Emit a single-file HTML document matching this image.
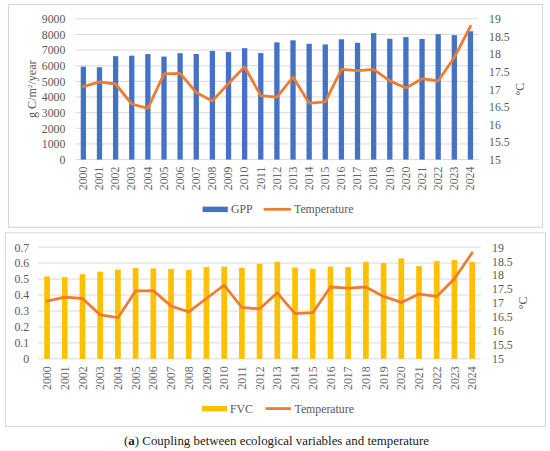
<!DOCTYPE html>
<html><head><meta charset="utf-8"><style>
html,body{margin:0;padding:0;background:#fff;width:550px;height:451px;overflow:hidden}
svg{display:block}
svg text{font-family:"Liberation Serif",serif;font-size:11.8px;fill:#595959}
svg text.xl{fill:#656565}
.cap{position:absolute;left:1.5px;top:434px;width:550px;text-align:center;font-family:"Liberation Serif",serif;font-size:12.9px;color:#1a1a1a;white-space:nowrap}
</style></head><body>
<svg width="550" height="451" viewBox="0 0 550 451">
<rect x="8.4" y="4.5" width="534.2" height="222.8" fill="#fff" stroke="#d4d4d4" stroke-width="1"/>
<line x1="75.3" x2="478.5" y1="159.60" y2="159.60" stroke="#d9d9d9" stroke-width="1"/>
<line x1="75.3" x2="478.5" y1="143.95" y2="143.95" stroke="#d9d9d9" stroke-width="1"/>
<line x1="75.3" x2="478.5" y1="128.30" y2="128.30" stroke="#d9d9d9" stroke-width="1"/>
<line x1="75.3" x2="478.5" y1="112.65" y2="112.65" stroke="#d9d9d9" stroke-width="1"/>
<line x1="75.3" x2="478.5" y1="97.00" y2="97.00" stroke="#d9d9d9" stroke-width="1"/>
<line x1="75.3" x2="478.5" y1="81.35" y2="81.35" stroke="#d9d9d9" stroke-width="1"/>
<line x1="75.3" x2="478.5" y1="65.70" y2="65.70" stroke="#d9d9d9" stroke-width="1"/>
<line x1="75.3" x2="478.5" y1="50.05" y2="50.05" stroke="#d9d9d9" stroke-width="1"/>
<line x1="75.3" x2="478.5" y1="34.40" y2="34.40" stroke="#d9d9d9" stroke-width="1"/>
<line x1="75.3" x2="478.5" y1="18.75" y2="18.75" stroke="#d9d9d9" stroke-width="1"/>
<rect x="80.71" y="66.60" width="5.3" height="93.00" fill="#4472C4"/>
<rect x="96.84" y="67.20" width="5.3" height="92.40" fill="#4472C4"/>
<rect x="112.97" y="56.20" width="5.3" height="103.40" fill="#4472C4"/>
<rect x="129.10" y="55.70" width="5.3" height="103.90" fill="#4472C4"/>
<rect x="145.23" y="54.10" width="5.3" height="105.50" fill="#4472C4"/>
<rect x="161.35" y="56.60" width="5.3" height="103.00" fill="#4472C4"/>
<rect x="177.48" y="53.20" width="5.3" height="106.40" fill="#4472C4"/>
<rect x="193.61" y="54.00" width="5.3" height="105.60" fill="#4472C4"/>
<rect x="209.74" y="50.90" width="5.3" height="108.70" fill="#4472C4"/>
<rect x="225.87" y="52.10" width="5.3" height="107.50" fill="#4472C4"/>
<rect x="241.99" y="48.20" width="5.3" height="111.40" fill="#4472C4"/>
<rect x="258.12" y="53.10" width="5.3" height="106.50" fill="#4472C4"/>
<rect x="274.25" y="42.40" width="5.3" height="117.20" fill="#4472C4"/>
<rect x="290.38" y="40.30" width="5.3" height="119.30" fill="#4472C4"/>
<rect x="306.51" y="43.80" width="5.3" height="115.80" fill="#4472C4"/>
<rect x="322.63" y="44.40" width="5.3" height="115.20" fill="#4472C4"/>
<rect x="338.76" y="39.30" width="5.3" height="120.30" fill="#4472C4"/>
<rect x="354.89" y="42.80" width="5.3" height="116.80" fill="#4472C4"/>
<rect x="371.02" y="33.20" width="5.3" height="126.40" fill="#4472C4"/>
<rect x="387.15" y="38.80" width="5.3" height="120.80" fill="#4472C4"/>
<rect x="403.27" y="37.10" width="5.3" height="122.50" fill="#4472C4"/>
<rect x="419.40" y="39.00" width="5.3" height="120.60" fill="#4472C4"/>
<rect x="435.53" y="34.10" width="5.3" height="125.50" fill="#4472C4"/>
<rect x="451.66" y="35.20" width="5.3" height="124.40" fill="#4472C4"/>
<rect x="467.79" y="31.20" width="5.3" height="128.40" fill="#4472C4"/>
<polyline points="83.36,86.60 99.49,81.90 115.62,84.00 131.75,104.00 147.88,108.30 164.00,73.90 180.13,73.40 196.26,92.50 212.39,100.90 228.52,83.50 244.64,66.80 260.77,95.60 276.90,97.10 293.03,77.10 309.16,103.20 325.28,101.90 341.41,69.30 357.54,70.60 373.67,69.40 389.80,80.90 405.92,88.00 422.05,78.70 438.18,81.00 454.31,57.50 470.44,26.30" fill="none" stroke="#ED7D31" stroke-width="2.8" stroke-linejoin="round" stroke-linecap="round"/>
<text x="65.4" y="164.00" text-anchor="end">0</text>
<text x="65.4" y="148.35" text-anchor="end">1000</text>
<text x="65.4" y="132.70" text-anchor="end">2000</text>
<text x="65.4" y="117.05" text-anchor="end">3000</text>
<text x="65.4" y="101.40" text-anchor="end">4000</text>
<text x="65.4" y="85.75" text-anchor="end">5000</text>
<text x="65.4" y="70.10" text-anchor="end">6000</text>
<text x="65.4" y="54.45" text-anchor="end">7000</text>
<text x="65.4" y="38.80" text-anchor="end">8000</text>
<text x="65.4" y="23.15" text-anchor="end">9000</text>
<text x="489.0" y="164.00">15</text>
<text x="489.0" y="146.39">15.5</text>
<text x="489.0" y="128.79">16</text>
<text x="489.0" y="111.18">16.5</text>
<text x="489.0" y="93.58">17</text>
<text x="489.0" y="75.97">17.5</text>
<text x="489.0" y="58.36">18</text>
<text x="489.0" y="40.76">18.5</text>
<text x="489.0" y="23.15">19</text>
<text transform="translate(87.10,166.6) rotate(-90)" text-anchor="end" class="xl">2000</text>
<text transform="translate(103.23,166.6) rotate(-90)" text-anchor="end" class="xl">2001</text>
<text transform="translate(119.36,166.6) rotate(-90)" text-anchor="end" class="xl">2002</text>
<text transform="translate(135.48,166.6) rotate(-90)" text-anchor="end" class="xl">2003</text>
<text transform="translate(151.61,166.6) rotate(-90)" text-anchor="end" class="xl">2004</text>
<text transform="translate(167.74,166.6) rotate(-90)" text-anchor="end" class="xl">2005</text>
<text transform="translate(183.87,166.6) rotate(-90)" text-anchor="end" class="xl">2006</text>
<text transform="translate(200.00,166.6) rotate(-90)" text-anchor="end" class="xl">2007</text>
<text transform="translate(216.12,166.6) rotate(-90)" text-anchor="end" class="xl">2008</text>
<text transform="translate(232.25,166.6) rotate(-90)" text-anchor="end" class="xl">2009</text>
<text transform="translate(248.38,166.6) rotate(-90)" text-anchor="end" class="xl">2010</text>
<text transform="translate(264.51,166.6) rotate(-90)" text-anchor="end" class="xl">2011</text>
<text transform="translate(280.64,166.6) rotate(-90)" text-anchor="end" class="xl">2012</text>
<text transform="translate(296.76,166.6) rotate(-90)" text-anchor="end" class="xl">2013</text>
<text transform="translate(312.89,166.6) rotate(-90)" text-anchor="end" class="xl">2014</text>
<text transform="translate(329.02,166.6) rotate(-90)" text-anchor="end" class="xl">2015</text>
<text transform="translate(345.15,166.6) rotate(-90)" text-anchor="end" class="xl">2016</text>
<text transform="translate(361.28,166.6) rotate(-90)" text-anchor="end" class="xl">2017</text>
<text transform="translate(377.40,166.6) rotate(-90)" text-anchor="end" class="xl">2018</text>
<text transform="translate(393.53,166.6) rotate(-90)" text-anchor="end" class="xl">2019</text>
<text transform="translate(409.66,166.6) rotate(-90)" text-anchor="end" class="xl">2020</text>
<text transform="translate(425.79,166.6) rotate(-90)" text-anchor="end" class="xl">2021</text>
<text transform="translate(441.92,166.6) rotate(-90)" text-anchor="end" class="xl">2022</text>
<text transform="translate(458.04,166.6) rotate(-90)" text-anchor="end" class="xl">2023</text>
<text transform="translate(474.17,166.6) rotate(-90)" text-anchor="end" class="xl">2024</text>
<text transform="translate(35.6,89.17) rotate(-90)" text-anchor="middle" style="font-size:12.1px">g C/m<tspan style="font-size:7px" dy="-3.6">2</tspan><tspan dy="3.6">/year</tspan></text>
<text transform="translate(523.5,89.17) rotate(-90)" text-anchor="middle">°C</text>
<rect x="202.6" y="206.6" width="25.2" height="5.5" fill="#4472C4"/>
<text x="230.9" y="213.30">GPP</text>
<line x1="263.6" x2="290.8" y1="209.3" y2="209.3" stroke="#ED7D31" stroke-width="2.8"/>
<text x="294.0" y="213.30">Temperature</text>
<rect x="5.4" y="232.9" width="540.1" height="193.5" fill="#fff" stroke="#d4d4d4" stroke-width="1"/>
<line x1="38.2" x2="481.0" y1="358.85" y2="358.85" stroke="#d9d9d9" stroke-width="1"/>
<line x1="38.2" x2="481.0" y1="342.89" y2="342.89" stroke="#d9d9d9" stroke-width="1"/>
<line x1="38.2" x2="481.0" y1="326.93" y2="326.93" stroke="#d9d9d9" stroke-width="1"/>
<line x1="38.2" x2="481.0" y1="310.97" y2="310.97" stroke="#d9d9d9" stroke-width="1"/>
<line x1="38.2" x2="481.0" y1="295.01" y2="295.01" stroke="#d9d9d9" stroke-width="1"/>
<line x1="38.2" x2="481.0" y1="279.05" y2="279.05" stroke="#d9d9d9" stroke-width="1"/>
<line x1="38.2" x2="481.0" y1="263.09" y2="263.09" stroke="#d9d9d9" stroke-width="1"/>
<line x1="38.2" x2="481.0" y1="247.13" y2="247.13" stroke="#d9d9d9" stroke-width="1"/>
<rect x="44.21" y="276.40" width="5.7" height="82.45" fill="#FFC000"/>
<rect x="61.92" y="277.20" width="5.7" height="81.65" fill="#FFC000"/>
<rect x="79.63" y="274.20" width="5.7" height="84.65" fill="#FFC000"/>
<rect x="97.34" y="271.60" width="5.7" height="87.25" fill="#FFC000"/>
<rect x="115.05" y="269.60" width="5.7" height="89.25" fill="#FFC000"/>
<rect x="132.77" y="268.00" width="5.7" height="90.85" fill="#FFC000"/>
<rect x="150.48" y="268.40" width="5.7" height="90.45" fill="#FFC000"/>
<rect x="168.19" y="269.00" width="5.7" height="89.85" fill="#FFC000"/>
<rect x="185.90" y="269.80" width="5.7" height="89.05" fill="#FFC000"/>
<rect x="203.61" y="267.10" width="5.7" height="91.75" fill="#FFC000"/>
<rect x="221.33" y="266.60" width="5.7" height="92.25" fill="#FFC000"/>
<rect x="239.04" y="267.70" width="5.7" height="91.15" fill="#FFC000"/>
<rect x="256.75" y="263.90" width="5.7" height="94.95" fill="#FFC000"/>
<rect x="274.46" y="261.80" width="5.7" height="97.05" fill="#FFC000"/>
<rect x="292.17" y="267.50" width="5.7" height="91.35" fill="#FFC000"/>
<rect x="309.89" y="268.70" width="5.7" height="90.15" fill="#FFC000"/>
<rect x="327.60" y="266.60" width="5.7" height="92.25" fill="#FFC000"/>
<rect x="345.31" y="267.00" width="5.7" height="91.85" fill="#FFC000"/>
<rect x="363.02" y="261.80" width="5.7" height="97.05" fill="#FFC000"/>
<rect x="380.73" y="263.10" width="5.7" height="95.75" fill="#FFC000"/>
<rect x="398.45" y="258.40" width="5.7" height="100.45" fill="#FFC000"/>
<rect x="416.16" y="266.10" width="5.7" height="92.75" fill="#FFC000"/>
<rect x="433.87" y="261.10" width="5.7" height="97.75" fill="#FFC000"/>
<rect x="451.58" y="259.90" width="5.7" height="98.95" fill="#FFC000"/>
<rect x="469.29" y="261.80" width="5.7" height="97.05" fill="#FFC000"/>
<polyline points="47.06,301.20 64.77,297.10 82.48,298.50 100.19,314.90 117.90,317.70 135.62,290.90 153.33,290.60 171.04,306.00 188.75,311.80 206.46,298.50 224.18,285.20 241.89,307.50 259.60,308.80 277.31,292.90 295.02,313.60 312.74,312.70 330.45,287.00 348.16,288.20 365.87,287.00 383.58,296.40 401.30,302.40 419.01,294.10 436.72,296.40 454.43,278.70 472.14,252.80" fill="none" stroke="#ED7D31" stroke-width="2.8" stroke-linejoin="round" stroke-linecap="round"/>
<text x="29.2" y="363.25" text-anchor="end">0</text>
<text x="29.2" y="347.29" text-anchor="end">0.1</text>
<text x="29.2" y="331.33" text-anchor="end">0.2</text>
<text x="29.2" y="315.37" text-anchor="end">0.3</text>
<text x="29.2" y="299.41" text-anchor="end">0.4</text>
<text x="29.2" y="283.45" text-anchor="end">0.5</text>
<text x="29.2" y="267.49" text-anchor="end">0.6</text>
<text x="29.2" y="251.53" text-anchor="end">0.7</text>
<text x="492.0" y="363.25">15</text>
<text x="492.0" y="349.29">15.5</text>
<text x="492.0" y="335.32">16</text>
<text x="492.0" y="321.36">16.5</text>
<text x="492.0" y="307.39">17</text>
<text x="492.0" y="293.43">17.5</text>
<text x="492.0" y="279.46">18</text>
<text x="492.0" y="265.50">18.5</text>
<text x="492.0" y="251.53">19</text>
<text transform="translate(51.20,366.4) rotate(-90)" text-anchor="end" class="xl">2000</text>
<text transform="translate(68.91,366.4) rotate(-90)" text-anchor="end" class="xl">2001</text>
<text transform="translate(86.62,366.4) rotate(-90)" text-anchor="end" class="xl">2002</text>
<text transform="translate(104.34,366.4) rotate(-90)" text-anchor="end" class="xl">2003</text>
<text transform="translate(122.05,366.4) rotate(-90)" text-anchor="end" class="xl">2004</text>
<text transform="translate(139.76,366.4) rotate(-90)" text-anchor="end" class="xl">2005</text>
<text transform="translate(157.47,366.4) rotate(-90)" text-anchor="end" class="xl">2006</text>
<text transform="translate(175.18,366.4) rotate(-90)" text-anchor="end" class="xl">2007</text>
<text transform="translate(192.90,366.4) rotate(-90)" text-anchor="end" class="xl">2008</text>
<text transform="translate(210.61,366.4) rotate(-90)" text-anchor="end" class="xl">2009</text>
<text transform="translate(228.32,366.4) rotate(-90)" text-anchor="end" class="xl">2010</text>
<text transform="translate(246.03,366.4) rotate(-90)" text-anchor="end" class="xl">2011</text>
<text transform="translate(263.74,366.4) rotate(-90)" text-anchor="end" class="xl">2012</text>
<text transform="translate(281.46,366.4) rotate(-90)" text-anchor="end" class="xl">2013</text>
<text transform="translate(299.17,366.4) rotate(-90)" text-anchor="end" class="xl">2014</text>
<text transform="translate(316.88,366.4) rotate(-90)" text-anchor="end" class="xl">2015</text>
<text transform="translate(334.59,366.4) rotate(-90)" text-anchor="end" class="xl">2016</text>
<text transform="translate(352.30,366.4) rotate(-90)" text-anchor="end" class="xl">2017</text>
<text transform="translate(370.02,366.4) rotate(-90)" text-anchor="end" class="xl">2018</text>
<text transform="translate(387.73,366.4) rotate(-90)" text-anchor="end" class="xl">2019</text>
<text transform="translate(405.44,366.4) rotate(-90)" text-anchor="end" class="xl">2020</text>
<text transform="translate(423.15,366.4) rotate(-90)" text-anchor="end" class="xl">2021</text>
<text transform="translate(440.86,366.4) rotate(-90)" text-anchor="end" class="xl">2022</text>
<text transform="translate(458.58,366.4) rotate(-90)" text-anchor="end" class="xl">2023</text>
<text transform="translate(476.29,366.4) rotate(-90)" text-anchor="end" class="xl">2024</text>
<text transform="translate(526.5,302.99) rotate(-90)" text-anchor="middle">°C</text>
<rect x="202.0" y="405.9" width="25.2" height="5.5" fill="#FFC000"/>
<text x="230.0" y="412.60">FVC</text>
<line x1="265.5" x2="290.9" y1="408.6" y2="408.6" stroke="#ED7D31" stroke-width="2.8"/>
<text x="294.5" y="412.60">Temperature</text>
</svg>
<div class="cap">(<b>a</b>) Coupling between ecological variables and temperature</div>
</body></html>
